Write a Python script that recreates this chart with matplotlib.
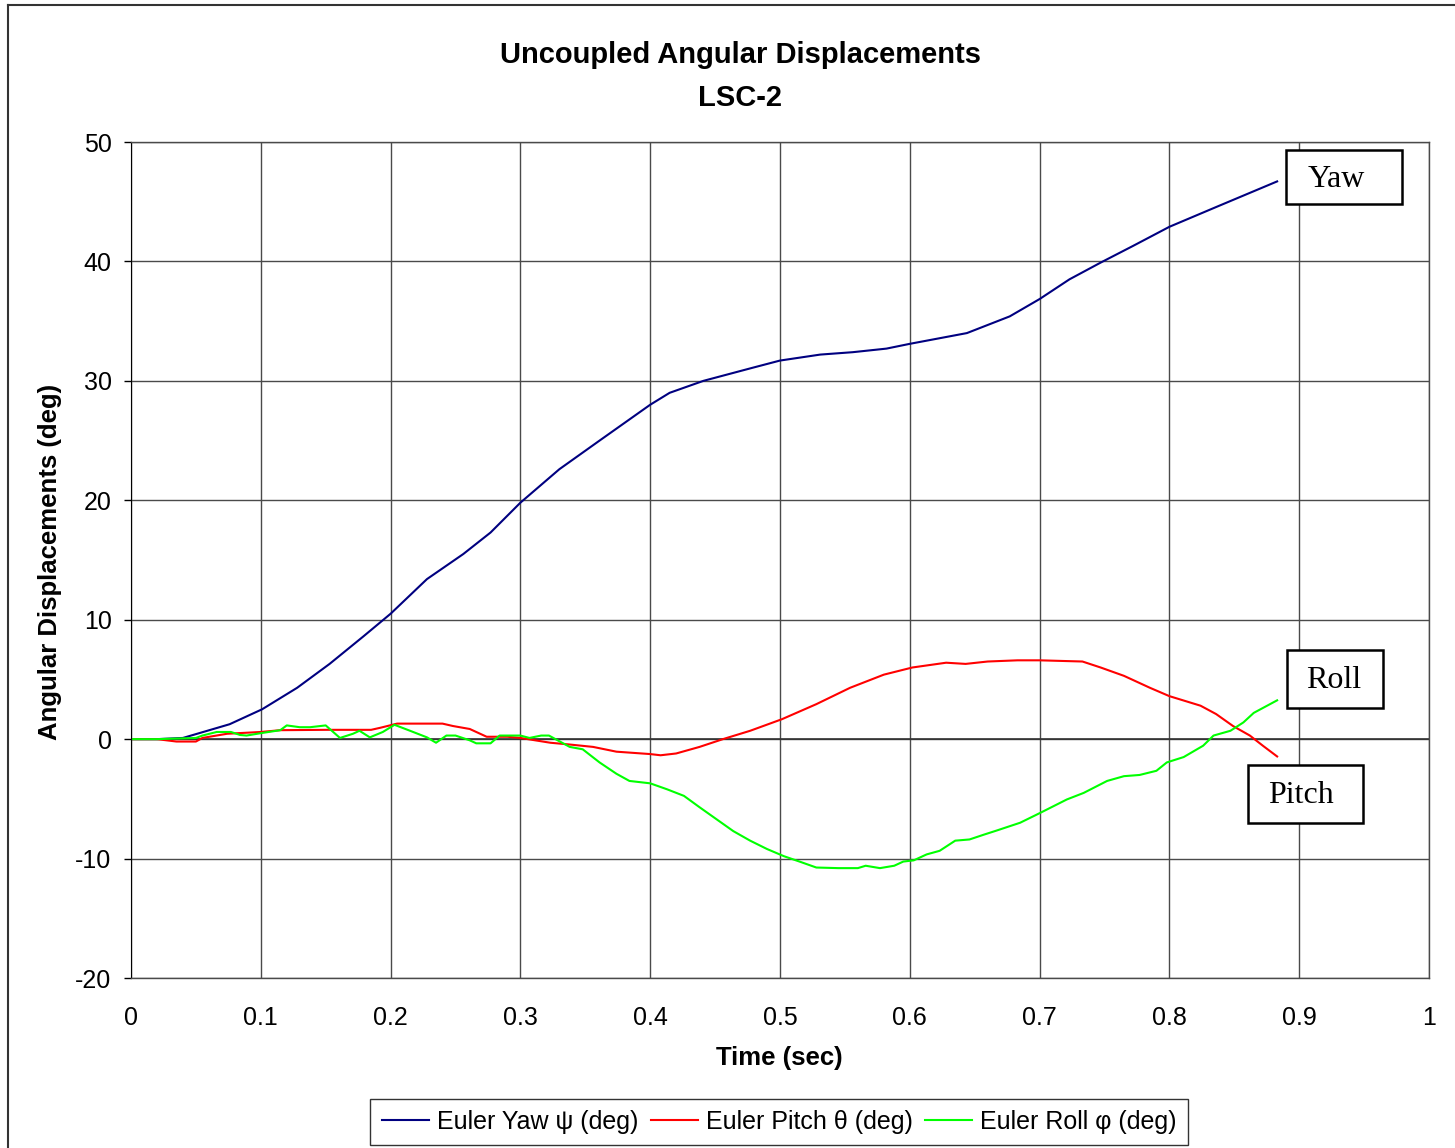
import matplotlib
matplotlib.use("Agg")
import matplotlib.pyplot as plt
from matplotlib.lines import Line2D
from matplotlib.patches import Rectangle

plt.rcParams["font.family"] = ["Liberation Sans", "DejaVu Sans"]
plt.rcParams["axes.unicode_minus"] = False

# Euler angles (time in s, angles in deg)
yaw_t = [0, 0.02, 0.04, 0.076, 0.101, 0.128, 0.153, 0.179, 0.2, 0.228,
         0.256, 0.277, 0.3, 0.33, 0.361, 0.4, 0.415, 0.441, 0.479, 0.5,
         0.531, 0.556, 0.582, 0.6, 0.644, 0.677, 0.7, 0.723, 0.747, 0.772,
         0.8, 0.837, 0.883]
yaw_deg = [0, 0, 0.1, 1.25, 2.5, 4.3, 6.3, 8.6, 10.5, 13.4,
           15.5, 17.3, 19.8, 22.6, 25.0, 28.0, 29.0, 30.0, 31.1, 31.7,
           32.2, 32.4, 32.7, 33.1, 34.0, 35.4, 36.85, 38.5, 39.9, 41.3,
           42.9, 44.6, 46.7]

pitch_t = [0, 0.02, 0.035, 0.05, 0.055, 0.074, 0.1, 0.115, 0.151, 0.185,
           0.192, 0.205, 0.24, 0.248, 0.261, 0.274, 0.29, 0.3, 0.323, 0.338,
           0.356, 0.374, 0.4, 0.408, 0.42, 0.438, 0.456, 0.477, 0.5015, 0.528,
           0.554, 0.58, 0.602, 0.628, 0.643, 0.66, 0.683, 0.7, 0.733, 0.747,
           0.765, 0.785, 0.8, 0.824, 0.836, 0.849, 0.862, 0.872, 0.883]
pitch_deg = [0, 0, -0.2, -0.2, 0.1, 0.45, 0.6, 0.75, 0.78, 0.78,
             0.95, 1.3, 1.3, 1.1, 0.85, 0.2, 0.2, 0.1, -0.3, -0.45,
             -0.65, -1.05, -1.25, -1.35, -1.2, -0.65, 0, 0.7, 1.67, 2.93,
             4.3, 5.4, 6.0, 6.4, 6.3, 6.5, 6.6, 6.6, 6.5, 6.0,
             5.3, 4.3, 3.6, 2.8, 2.1, 1.1, 0.3, -0.55, -1.45]

roll_t = [0, 0.02, 0.05, 0.055, 0.066, 0.077, 0.084, 0.089, 0.1, 0.115,
          0.12, 0.13, 0.138, 0.15, 0.161, 0.171, 0.176, 0.184, 0.194, 0.203,
          0.215, 0.228, 0.235, 0.243, 0.25, 0.261, 0.266, 0.277, 0.284, 0.3,
          0.307, 0.316, 0.322, 0.338, 0.348, 0.361, 0.374, 0.384, 0.4, 0.413,
          0.426, 0.438, 0.451, 0.464, 0.477, 0.49, 0.503, 0.515, 0.528, 0.545,
          0.56, 0.566, 0.577, 0.588, 0.595, 0.603, 0.613, 0.623, 0.635, 0.646,
          0.657, 0.667, 0.685, 0.7, 0.721, 0.734, 0.752, 0.765, 0.777, 0.79,
          0.798, 0.811, 0.826, 0.834, 0.847, 0.857, 0.865, 0.883]
roll_deg = [0, 0, 0.1, 0.3, 0.6, 0.6, 0.35, 0.3, 0.5, 0.75,
            1.15, 1.0, 1.0, 1.15, 0.1, 0.45, 0.7, 0.15, 0.6, 1.2,
            0.7, 0.15, -0.3, 0.3, 0.3, -0.1, -0.35, -0.35, 0.3, 0.3,
            0.1, 0.3, 0.3, -0.65, -0.85, -1.95, -2.9, -3.5, -3.7, -4.2,
            -4.75, -5.7, -6.7, -7.7, -8.5, -9.2, -9.8, -10.25, -10.75, -10.8,
            -10.8, -10.6, -10.8, -10.6, -10.25, -10.15, -9.65, -9.35, -8.5, -8.4,
            -8.0, -7.65, -7.0, -6.2, -5.05, -4.5, -3.5, -3.1, -3.0, -2.65,
            -1.95, -1.5, -0.55, 0.3, 0.7, 1.4, 2.2, 3.25]

x_ticks = [0, 0.1, 0.2, 0.3, 0.4, 0.5, 0.6, 0.7, 0.8, 0.9, 1]
x_tick_labels = ["0", "0.1", "0.2", "0.3", "0.4", "0.5", "0.6", "0.7", "0.8", "0.9", "1"]
y_ticks = [-20, -10, 0, 10, 20, 30, 40, 50]

fig = plt.figure(figsize=(14.55, 11.48), dpi=100)
ax = fig.add_axes([131 / 1455, 1 - 978 / 1148, 1298 / 1455, 836 / 1148])

ax.plot(yaw_t, yaw_deg, color="#000080", lw=1.5, label="Euler Yaw ψ (deg)")
ax.plot(pitch_t, pitch_deg, color="#FF0000", lw=1.5, label="Euler Pitch θ (deg)")
ax.plot(roll_t, roll_deg, color="#00FF00", lw=1.5, label="Euler Roll φ (deg)")

ax.set_xlim(0, 1)
ax.set_ylim(-20, 50)
ax.set_xticks(x_ticks)
ax.set_xticklabels(x_tick_labels)
ax.set_yticks(y_ticks)
ax.grid(True, color="#4a4a4a", lw=1.0)
ax.set_axisbelow(True)
ax.axhline(0, color="#333333", lw=1.2, zorder=1)

ax.tick_params(axis="y", direction="out", length=5, width=1, pad=9, labelsize=18)
ax.tick_params(axis="x", length=0, pad=20, labelsize=18)
for side in ["top", "right", "bottom"]:
    ax.spines[side].set_color("#4a4a4a")
    ax.spines[side].set_linewidth(1.0)
ax.spines["left"].set_color("black")

# outer chart-area border (runs off the right and bottom edges)
fig.add_artist(Line2D([8 / 1455, 8 / 1455], [0, 1 - 5 / 1148], color="#333333", lw=1.5))
fig.add_artist(Line2D([8 / 1455, 1], [1 - 5 / 1148, 1 - 5 / 1148], color="#333333", lw=1.5))

fig.text(740 / 1455, 1 - 55 / 1148, "Uncoupled Angular Displacements", ha="center", va="center",
         fontsize=21, fontweight="bold")
fig.text(740 / 1455, 1 - 98 / 1148, "LSC-2", ha="center", va="center", fontsize=21, fontweight="bold")
fig.text(779 / 1455, 1 - 1058 / 1148, "Time (sec)", ha="center", va="center", fontsize=18.5, fontweight="bold")
fig.text(50 / 1455, 1 - 562 / 1148, "Angular Displacements (deg)", ha="center", va="center",
         rotation=90, fontsize=18.5, fontweight="bold")

# series name boxes: (x0, x1, y0, y1) of the box, then text centre
name_boxes = [
    ("Yaw", 0.8898, 0.9792, 44.8, 49.33, 0.9287, 46.9),
    ("Roll", 0.8906, 0.9646, 2.6, 7.45, 0.9268, 4.94),
    ("Pitch", 0.8606, 0.9492, -7.04, -2.18, 0.9014, -4.69),
]
for name, x0, x1, y0, y1, tx, ty in name_boxes:
    ax.add_patch(Rectangle((x0, y0), x1 - x0, y1 - y0, facecolor="white", edgecolor="black",
                           lw=1.8, zorder=5, clip_on=False))
    ax.text(tx, ty, name, ha="center", va="center", fontsize=23, family="Liberation Serif", zorder=6)

leg = fig.legend(loc="center", bbox_to_anchor=(779 / 1455, 1 - 1122 / 1148), ncol=3, fontsize=18,
                 frameon=True, fancybox=False, edgecolor="black", handlelength=1.9,
                 handletextpad=0.3, columnspacing=0.5, borderpad=0.45)
leg.get_frame().set_linewidth(1.0)

fig.savefig("out.png", dpi=100)
